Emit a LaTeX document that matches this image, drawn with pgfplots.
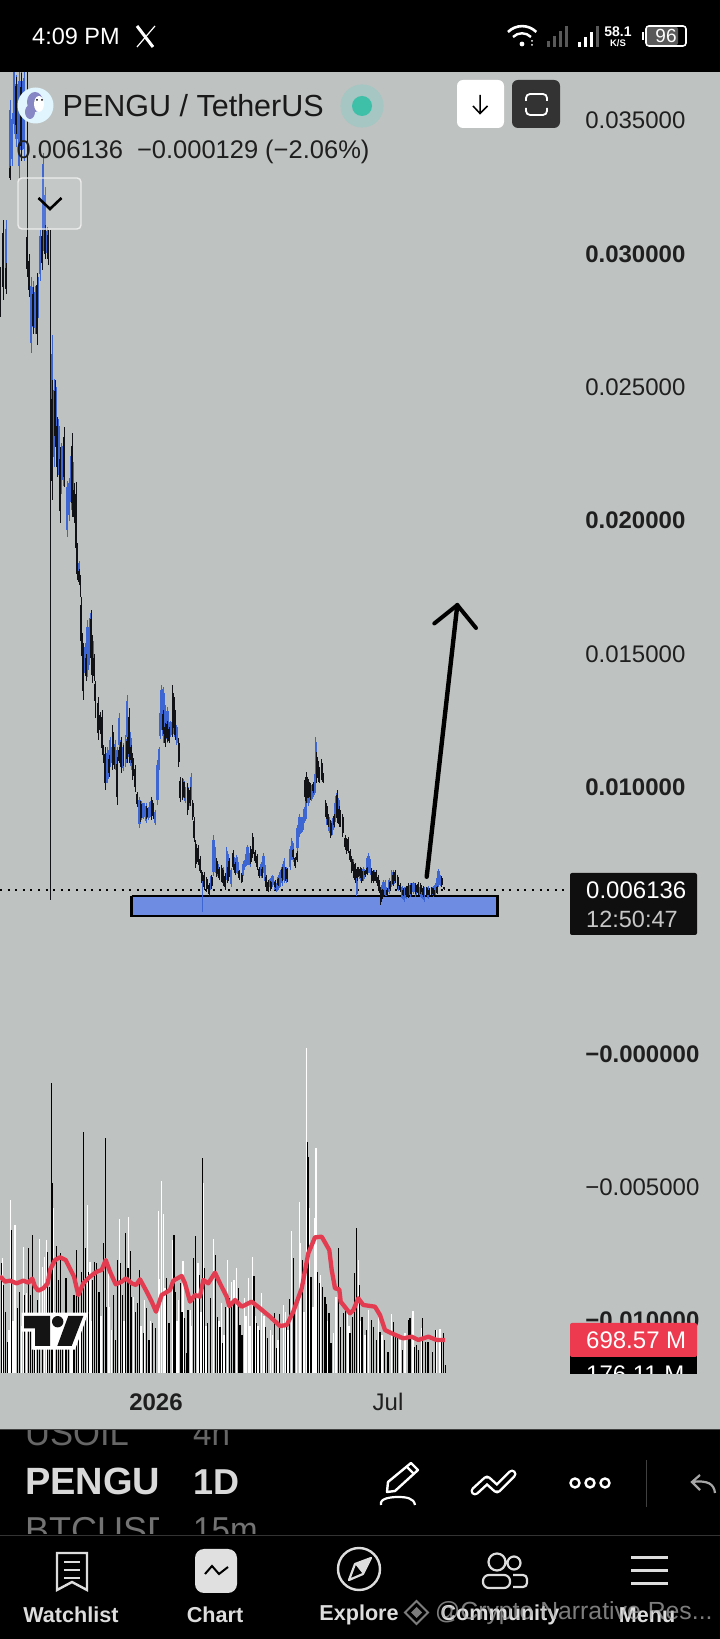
\documentclass[border=0pt]{standalone}
\usepackage{pgfplots}
\usepackage{pgfplotstable}
\usepackage{fontspec}
\setmainfont{Liberation Sans}
\pgfplotsset{compat=1.18}
\definecolor{bg}{HTML}{BEC2C1}
\definecolor{cblue}{HTML}{3D66D2}
\definecolor{cblack}{HTML}{101216}
\definecolor{rectblue}{HTML}{6E8CE2}
\definecolor{mared}{HTML}{E33C50}
\definecolor{tagred}{HTML}{EE3A4E}
\definecolor{navtxt}{HTML}{DDDDDD}
\newcommand{\fs}[1]{\fontsize{#1}{#1}\selectfont}
\pgfplotstableread{
x lo hi
6 0.02850 0.03127
10 0.03277 0.03577
12 0.03330 0.03530
14 0.03450 0.03750
16.5 0.03400 0.03670
19 0.03277 0.03700
21.5 0.03350 0.03690
24 0.03350 0.03700
31 0.02630 0.02915
33 0.02700 0.02900
35 0.02700 0.02880
38 0.02760 0.02915
40 0.02900 0.03090
43 0.03010 0.03380
45 0.03000 0.03250
47 0.02990 0.03100
52 0.02115 0.02696
54 0.02200 0.02530
56 0.02280 0.02500
58.5 0.02170 0.02380
61 0.02100 0.02290
63 0.02130 0.02300
67 0.01940 0.02150
69 0.02000 0.02160
71 0.02040 0.02270
73 0.02100 0.02220
79 0.01777 0.01850
84 0.01430 0.01520
85 0.01430 0.01540
87 0.01415 0.01627
88.3 0.01440 0.01600
89 0.01510 0.01550
90 0.01490 0.01652
93 0.01440 0.01550
106 0.01015 0.01127
107.7 0.01015 0.01150
108.5 0.01030 0.01140
110 0.01077 0.01190
112 0.01080 0.01160
115 0.01065 0.01177
117 0.01070 0.01150
119 0.01140 0.01277
121 0.01090 0.01190
123 0.01060 0.01165
125.7 0.01077 0.01196
127 0.01165 0.01346
129.3 0.01100 0.01220
131 0.01065 0.01183
139.3 0.00846 0.00965
141.7 0.00877 0.00950
143 0.00880 0.00940
144 0.00890 0.00940
146 0.00865 0.00940
148.3 0.00877 0.00927
150 0.00890 0.00950
155 0.00858 0.00915
157.3 0.00933 0.01102
159 0.01065 0.01152
160 0.01180 0.01290
161 0.01215 0.01383
162.3 0.01200 0.01370
163.3 0.01165 0.01377
165 0.01190 0.01310
167.3 0.01165 0.01302
170.5 0.01190 0.01250
174 0.01190 0.01260
175 0.01180 0.01290
176.7 0.01158 0.01233
183.7 0.00960 0.01030
185 0.00940 0.01000
188.7 0.00920 0.01000
191 0.00952 0.01052
210.7 0.00615 0.00665
213.3 0.00665 0.00820
215 0.00677 0.00777
218 0.00660 0.00710
223 0.00650 0.00700
226.7 0.00652 0.00777
228 0.00660 0.00750
231 0.00627 0.00696
234.7 0.00680 0.00740
236.7 0.00677 0.00746
238 0.00670 0.00720
242.7 0.00660 0.00710
244 0.00690 0.00727
245.7 0.00700 0.00750
247.3 0.00708 0.00783
248.7 0.00710 0.00760
250 0.00702 0.00740
261 0.00660 0.00720
263.3 0.00677 0.00752
265 0.00640 0.00710
270 0.00620 0.00660
272.3 0.00627 0.00671
274.7 0.00615 0.00650
276.7 0.00608 0.00640
278.3 0.00615 0.00670
280 0.00627 0.00690
282 0.00630 0.00710
284 0.00640 0.00733
286 0.00640 0.00700
290 0.00690 0.00780
291.7 0.00727 0.00808
293 0.00720 0.00790
297.5 0.00760 0.00860
299.3 0.00815 0.00900
301 0.00830 0.00890
302.3 0.00833 0.00890
304.3 0.00865 0.00927
306 0.00880 0.00970
308.3 0.00930 0.01030
310 0.00952 0.01015
311.7 0.00950 0.01010
313.3 0.00965 0.01015
315 0.00980 0.01060
315.7 0.01027 0.01190
326.7 0.00860 0.00940
329 0.00830 0.00890
330.7 0.00808 0.00877
332 0.00820 0.00880
333.3 0.00840 0.00890
334.7 0.00860 0.00940
336 0.00896 0.00977
338.7 0.00890 0.00960
353 0.00680 0.00730
356.7 0.00590 0.00677
360 0.00650 0.00700
361.7 0.00640 0.00696
363.3 0.00650 0.00700
367 0.00690 0.00740
368.3 0.00677 0.00752
370 0.00670 0.00730
374 0.00650 0.00690
382 0.00590 0.00640
383.3 0.00590 0.00652
385 0.00590 0.00650
386.7 0.00590 0.00627
389 0.00600 0.00660
391.7 0.00627 0.00690
393.5 0.00630 0.00690
398 0.00610 0.00660
402 0.00580 0.00630
404 0.00571 0.00627
406 0.00580 0.00630
410 0.00590 0.00640
413.3 0.00600 0.00646
415.7 0.00590 0.00640
420 0.00590 0.00630
422 0.00580 0.00620
424 0.00571 0.00627
428 0.00580 0.00630
433 0.00590 0.00630
435 0.00596 0.00640
436.7 0.00610 0.00660
438.3 0.00627 0.00692
440 0.00630 0.00670
}\blueC
\pgfplotstableread{
x lo hi
0 0.02765 0.02952
3 0.02827 0.03127
6 0.02850 0.02965
10 0.03277 0.03330
16 0.03450 0.03665
21 0.03350 0.03680
27 0.02915 0.03090
29 0.02840 0.03000
33 0.02700 0.02877
37 0.02658 0.02927
42 0.02940 0.03090
45 0.02980 0.03110
48 0.02960 0.03090
52 0.02077 0.02527
55 0.02277 0.02527
57 0.02165 0.02390
60 0.01990 0.02277
64 0.02127 0.02350
72 0.02015 0.02330
74 0.01990 0.02140
76 0.01850 0.02146
77 0.01777 0.01915
79 0.01760 0.01820
80.5 0.01715 0.01796
81 0.01515 0.01715
82 0.01477 0.01577
83 0.01327 0.01540
86 0.01400 0.01500
91 0.01450 0.01665
92 0.01390 0.01570
94 0.01400 0.01500
95 0.01310 0.01400
95.5 0.01260 0.01365
98 0.01177 0.01340
100 0.01200 0.01283
102 0.01120 0.01290
103.5 0.01090 0.01160
105 0.00990 0.01152
109 0.01040 0.01120
112.7 0.01065 0.01233
114 0.01070 0.01150
117 0.00933 0.01115
119 0.01090 0.01150
121 0.01052 0.01190
123.5 0.01080 0.01160
127 0.01090 0.01190
129 0.01090 0.01296
131 0.01090 0.01160
132.7 0.01027 0.01127
135 0.00983 0.01083
137.3 0.00927 0.00983
140.7 0.00870 0.00950
146.7 0.00880 0.00930
151.7 0.00877 0.00965
153.5 0.00880 0.00940
163 0.01200 0.01290
165 0.01150 0.01240
167 0.01170 0.01250
169.3 0.01165 0.01227
172.7 0.01190 0.01383
174 0.01200 0.01340
175 0.01177 0.01290
178.7 0.01077 0.01183
180 0.00946 0.01040
182.7 0.00952 0.01033
184.5 0.00960 0.01020
187.7 0.00896 0.01015
190 0.00930 0.01000
192.7 0.00877 0.00952
194.3 0.00796 0.00890
195.7 0.00696 0.00802
198.3 0.00708 0.00783
200.3 0.00677 0.00740
201.7 0.00640 0.00690
204 0.00615 0.00683
206.7 0.00608 0.00665
209 0.00590 0.00640
211.7 0.00620 0.00670
216.7 0.00665 0.00733
219 0.00652 0.00702
221.7 0.00646 0.00708
223.3 0.00630 0.00690
225 0.00615 0.00677
227.7 0.00640 0.00700
229 0.00665 0.00733
233.3 0.00690 0.00765
235 0.00670 0.00720
239 0.00652 0.00690
241.7 0.00640 0.00677
250.7 0.00710 0.00780
252.7 0.00733 0.00827
255 0.00715 0.00765
257 0.00690 0.00750
259 0.00658 0.00702
262 0.00660 0.00700
266 0.00615 0.00671
268.3 0.00608 0.00652
270.7 0.00610 0.00650
275 0.00620 0.00650
278 0.00630 0.00660
282 0.00650 0.00700
285.7 0.00650 0.00700
287 0.00646 0.00696
293 0.00730 0.00770
295 0.00696 0.00740
297 0.00720 0.00760
305 0.00950 0.01040
306.7 0.00940 0.01058
308.7 0.00960 0.01030
310 0.00952 0.01015
313 0.00980 0.01020
316.7 0.01015 0.01133
318 0.01020 0.01100
319 0.01015 0.01077
321.7 0.01027 0.01105
323.3 0.01015 0.01052
325.7 0.00890 0.00952
327 0.00870 0.00930
328.3 0.00852 0.00900
330.7 0.00808 0.00877
334 0.00850 0.00900
337.3 0.00865 0.00990
339 0.00850 0.00930
340 0.00852 0.00915
342.7 0.00815 0.00900
345 0.00765 0.00820
346.7 0.00750 0.00810
348.3 0.00752 0.00815
350 0.00720 0.00770
351.7 0.00677 0.00740
353.7 0.00660 0.00720
355 0.00640 0.00715
357 0.00650 0.00700
358.3 0.00665 0.00702
360 0.00660 0.00700
361.7 0.00640 0.00696
365 0.00665 0.00690
367 0.00670 0.00700
371.7 0.00640 0.00696
373.7 0.00640 0.00690
376 0.00640 0.00690
378 0.00620 0.00670
379.3 0.00602 0.00652
380.7 0.00558 0.00627
382.7 0.00580 0.00620
387 0.00590 0.00620
390 0.00610 0.00650
393 0.00630 0.00680
395 0.00640 0.00690
397.7 0.00620 0.00670
400 0.00608 0.00640
403 0.00590 0.00620
406 0.00590 0.00630
408.3 0.00583 0.00640
411 0.00590 0.00640
415.7 0.00600 0.00640
418.3 0.00596 0.00646
420.7 0.00600 0.00640
423 0.00590 0.00630
426.7 0.00590 0.00627
429 0.00590 0.00620
431.7 0.00596 0.00627
433.7 0.00590 0.00620
437 0.00600 0.00630
441.7 0.00627 0.00665
444 0.00615 0.00627
}\blackC
\pgfplotstableread{
x lo hi
27 0.02915 0.03750
50.5 0.00576 0.03090
}\blackW
\pgfplotstableread{
x lo hi
202.3 0.00533 0.00677
}\blueW
\pgfplotstableread{
x v
1.3 2336
3.3 1863
5.3 1298
7.3 663
11.3 3027
17.3 1369
19.3 1722
24.3 1651
28.3 2639
30.3 1651
32.3 2921
34.3 487
37.3 1545
39.3 840
42.3 700
47.3 2569
49.3 1828
51.3 6133
52.3 4015
56.3 2689
58.3 1969
60.3 2534
62.3 840
66 2004
68.3 699
74 1651
76.3 2604
78.3 1700
81.3 2145
83.3 5109
85.3 2639
88.7 2145
92.7 1969
94.7 2357
96.7 2322
99 1722
103.3 2760
105.3 4982
106.3 1404
113.3 1651
115.3 699
117.3 2392
120.3 2322
122.3 1651
125.7 2957
128 2216
130.3 2590
131.3 1616
135.3 1298
137.3 1475
139.3 2181
143.3 840
146.3 1369
149 699
152.7 1052
155.7 946
166.3 2004
169 1052
174 2921
175 1722
180.3 1898
182 1298
184.3 1157
187 416
188 1334
193.3 2428
195.3 2900
199.7 2075
202.3 4559
204.3 2216
207.3 1052
210.3 1581
215.3 2498
217.7 1193
220 981
222.7 628
225.3 1404
229.3 1581
231.7 1475
234 1545
238.3 1793
240 1016
242 805
254 2054
256.7 1052
259.3 910
265.7 981
267.7 734
274.3 1263
276.7 522
279.7 1242
286.7 981
289.3 1560
293.3 2428
294.7 1475
302.3 2392
307.7 4898
308.7 4580
311 2040
317.3 2145
319.3 1898
322.3 1828
325 1616
326.7 1454
329 1263
331 628
338.3 2639
340.7 981
343.3 1263
345.3 1334
350 840
352.3 1193
354.3 2110
356.3 3063
359.3 1863
362 1193
366.7 910
371.3 1122
373.7 981
376.3 699
380 875
384.3 699
388 452
393.3 1087
395.7 769
397.7 734
402.7 487
408.3 1122
410 1157
414.3 557
416.7 593
418.7 487
422.3 1157
425.7 663
428 663
432.3 452
435.7 910
441.7 663
443.3 840
445.7 176
}\blackV
\pgfplotstableread{
x v
2.3 2428
9 900
10.3 3663
13 1100
15 3133
21.5 1000
23.3 2675
26.7 1700
35.7 800
39.3 2830
42.3 2251
44.3 2463
46.3 2816
53.3 3486
54.7 1300
64.3 950
70.5 1150
72 800
80 1250
87.7 3557
90 2357
91.3 1100
101 1200
108.3 2110
109.7 1400
111.5 900
119.3 3253
124 1100
128.3 3310
133.3 1616
141 1000
144.7 1545
150.7 1100
158.3 3430
159.7 2000
161.3 4072
163.3 3366
165 1800
172.3 2816
177 1100
178.3 1545
183 2378
190.3 1334
191.7 1000
198 2336
201 1300
203.3 4015
206 1000
213.3 2830
219 1100
221.3 1480
224 800
227.7 2392
231.7 1934
234 1969
236.3 2216
244.3 1581
246 1200
248.3 2004
250 1000
252.3 2463
255 1200
258 1000
261.7 1687
264 1200
270.7 910
272.5 800
278 700
283.3 1440
285.3 1300
288 900
291.3 3006
296.7 1475
299.3 3613
300.3 2745
304 1300
306.3 6873
309.7 3486
313 1400
316 4756
315 3274
320.7 2075
328 1100
333.3 840
336 1616
347.3 1400
349 1000
358.3 2392
361 1100
365 800
368.3 1334
378.3 1250
382 800
391.3 1249
400 700
405 840
413 1320
421.7 950
436 910
440 924
}\whiteV
\pgfplotstableread{
x v
0 2054
5 1934
10 1955
16.7 1898
23.3 1955
28.3 1912
32.3 1997
35 1828
38.3 1743
43.3 1793
47.7 1898
50 2181
55 2392
60 2449
65.7 2392
70.7 2181
74 2040
78.3 1651
83.3 1898
90 2040
96.7 2145
101.7 2181
105.7 2392
110 2145
115.7 1877
121.7 1934
126 2004
131.7 1898
136 1863
140 1983
146.7 1722
151.7 1510
156 1298
161.7 1651
170 1757
173.3 1955
181.7 2054
185 1898
190 1510
195 1651
200 1616
203.3 1969
208.3 1898
215 2124
220 1898
226.7 1616
229.3 1418
235 1545
241.7 1404
251.7 1510
260 1369
270 1193
280 995
286.7 1016
293.3 1298
301.7 1793
308.3 2534
315 2872
321.7 2886
329.3 2604
331.7 2181
335 1793
339.3 1771
340.7 1510
350 1263
353.3 1330
358.3 1581
363.3 1440
375 1404
380 1228
385 910
391.7 840
403.3 734
411.7 769
418.3 699
428.3 769
436.7 699
445 699
}\maV
\begin{document}
\begin{tikzpicture}[x=1pt,y=1pt]
\useasboundingbox (0,0) rectangle (720,1639);
\fill[black] (-3,-3) rectangle (723,1642);
\fill[bg] (-3,210) rectangle (723,1567);
% price axis: chart region y(px) 72..1429
\begin{axis}[at={(0pt,210pt)},anchor=south west,scale only axis,width=720pt,height=1357pt,
  xmin=0,xmax=720,ymin=-0.01407,ymax=0.03682,
  axis line style={draw=none},tick style={draw=none},
  scaled y ticks=false,
  ytick={0.035,0.03,0.025,0.02,0.015,0.01,0,-0.005,-0.01},
  yticklabels={0.035000,\bfseries 0.030000,0.025000,\bfseries 0.020000,0.015000,\bfseries 0.010000,\bfseries −0.000000,−0.005000,\bfseries −0.010000},
  yticklabel pos=right,
  yticklabel style={anchor=west,xshift=-134pt-\pgfkeysvalueof{/pgfplots/major tick length},font=\fs{24},text=black!88},
  xtick={156,388},xticklabels={\bfseries 2026,Jul},
  xticklabel style={anchor=center,yshift=27pt,font=\fs{24},text=black!88},
  clip=true]
\addplot[draw=none,fill=rectblue] coordinates {(131.7,0.00592) (497.3,0.00592) (497.3,0.00517) (131.7,0.00517) (131.7,0.00592)};
\addplot[black,line width=2.6pt] coordinates {(131.7,0.00592) (497.3,0.00592) (497.3,0.00517) (131.7,0.00517) (131.7,0.00592)};
\addplot[black,line width=1.6pt,dash pattern=on 2pt off 5.6pt] coordinates {(0,0.006136) (565,0.006136)};
\addplot[draw=none,mark=none,error bars/.cd,y dir=both,y explicit,error mark=none,error bar style={draw=cblue,line width=1pt}] table[x=x,y expr={(\thisrow{lo}+\thisrow{hi})/2},y error expr={(\thisrow{hi}-\thisrow{lo})/2}] {\blueC};
\addplot[draw=none,mark=none,error bars/.cd,y dir=both,y explicit,error mark=none,error bar style={draw=cblue,line width=2.4pt}] table[x=x,y expr={(\thisrow{lo}+\thisrow{hi})/2},y error expr={(\thisrow{hi}-\thisrow{lo})*0.38}] {\blueC};
\addplot[draw=none,mark=none,error bars/.cd,y dir=both,y explicit,error mark=none,error bar style={draw=cblue,line width=1pt}] table[x=x,y expr={(\thisrow{lo}+\thisrow{hi})/2},y error expr={(\thisrow{hi}-\thisrow{lo})/2}] {\blueW};
\addplot[draw=none,mark=none,error bars/.cd,y dir=both,y explicit,error mark=none,error bar style={draw=cblack,line width=0.9pt}] table[x=x,y expr={(\thisrow{lo}+\thisrow{hi})/2},y error expr={(\thisrow{hi}-\thisrow{lo})/2}] {\blackC};
\addplot[draw=none,mark=none,error bars/.cd,y dir=both,y explicit,error mark=none,error bar style={draw=cblack,line width=1.9pt}] table[x=x,y expr={(\thisrow{lo}+\thisrow{hi})/2},y error expr={(\thisrow{hi}-\thisrow{lo})*0.34}] {\blackC};
\addplot[draw=none,mark=none,error bars/.cd,y dir=both,y explicit,error mark=none,error bar style={draw=cblack,line width=0.9pt}] table[x=x,y expr={(\thisrow{lo}+\thisrow{hi})/2},y error expr={(\thisrow{hi}-\thisrow{lo})/2}] {\blackW};
\addplot[black,line width=4.4pt,line cap=round] coordinates {(426.7,0.00664) (457.3,0.01683)};
\addplot[black,line width=4pt,line cap=round,line join=round] coordinates {(434.3,0.01614) (457.3,0.01683) (476,0.01597)};
\end{axis}
% volume axis: baseline y(px)=1373, top y(px)=1040
\begin{axis}[at={(0pt,266pt)},anchor=south west,scale only axis,width=720pt,height=333pt,
  xmin=0,xmax=720,ymin=0,ymax=7050,hide axis,clip=true]
\addplot[ycomb,white,line width=1.4pt] table[x=x,y=v] {\whiteV};
\addplot[ycomb,black,line width=1.5pt] table[x=x,y=v] {\blackV};
\addplot[mared,line width=4.3pt,line join=round] table[x=x,y=v] {\maV};
\end{axis}
\begin{scope}[yshift=1639pt,x=1pt,y=-1pt]
% TV logo
\fill[white] (21.7,1312.7)--(88.3,1312.7)--(75,1349.7)--(31.7,1349.7)--(31.7,1331.7)--(21.7,1331.7)--cycle;
\fill[black!92] (24,1316)--(50,1316)--(50,1346)--(35,1346)--(35,1328.3)--(24,1328.3)--cycle;
\fill[black!92] (57.7,1321.7) circle (5.7);
\fill[black!92] (68.3,1316)--(83.3,1316)--(71.7,1346)--(57.3,1346)--cycle;
% tags
\fill[black!94,rounded corners=2pt] (570,873) rectangle (697,935);
\node[anchor=west,text=white,font=\fs{24},inner sep=0] at (586,890) {0.006136};
\node[anchor=west,text=black!22,font=\fs{23.5},inner sep=0] at (586,919) {12:50:47};
\begin{scope}
\clip (560,1300) rectangle (720,1374);
\fill[black] (570,1350) rectangle (697,1380);
\node[anchor=west,text=white,font=\fs{24},inner sep=0] at (586,1374) {176.11 M};
\end{scope}
\fill[tagred,rounded corners=2pt] (570,1323) rectangle (697,1357);
\node[anchor=west,text=white,font=\fs{24},inner sep=0] at (586,1340.5) {698.57 M};
% header
\fill[white!88!cyan] (35.5,105.5) circle (18);
\fill[blue!35!gray!70!white] (35,102) ellipse (8 and 10);
\fill[blue!35!gray!70!white] (30,112) ellipse (5 and 7);
\fill[white] (39,104) ellipse (5 and 8);
\fill[black] (37,100) circle (1); \fill[black] (42,100) circle (1);
\node[anchor=west,text=black!90,font=\fs{30.5},inner sep=0] at (62.5,106) {PENGU / TetherUS};
\definecolor{dotout}{HTML}{A5C6C2}\definecolor{dotin}{HTML}{3DBFA8}
\fill[dotout] (362,106) circle (21.6);
\fill[dotin] (362,106) circle (10);
\node[anchor=west,text=black!88,font=\fs{25.5},inner sep=0] at (16.5,152) {0.006136\hspace{14pt}−0.000129\hspace{7pt}(−2.06\%)};
\fill[white,rounded corners=6pt] (457,80) rectangle (504,128);
\draw[black,line width=1.5pt] (480,95)--(480,113) (473,106)--(480,113.5)--(487.5,106);
\fill[black!80,rounded corners=6pt] (512,80) rectangle (560,128);
\draw[white,line width=1.8pt,rounded corners=4pt] (526,101)--(526,94)--(547,94)--(547,101) (526,108)--(526,115)--(547,115)--(547,108);
\fill[white,opacity=0.1,rounded corners=4pt] (18,178) rectangle (81,229);
\draw[white!85!gray,line width=1.4pt,rounded corners=4pt] (18,178) rectangle (81,229);
\draw[black,line width=2.6pt] (38.5,198)--(50,209)--(61.5,198);
% status bar
\fill[black] (-3,-3) rectangle (723,72);
\node[anchor=west,text=white,font=\fs{23.5},inner sep=0] at (32,36) {4:09 PM};
\draw[white,line width=3pt] (137,26)--(153,47);
\draw[white,line width=1.2pt] (155,26)--(137,47);
\draw[white,line width=2.6pt] (508,32) arc[start angle=225,end angle=315,radius=20];
\draw[white,line width=2.4pt] (513,37) arc[start angle=225,end angle=315,radius=12.7];
\fill[white] (522,44) circle (2.4);
\fill[white] (532,41) circle (1); \fill[white] (532,45) circle (1);
\foreach \a/\h in {547/6,553/11,559/16,565/21}{\fill[white!35!black] (\a,47) rectangle (\a+2.5,47-\h);}
\foreach \a/\h/\c in {578/5/100,584/10/100,590/15/100,596/21/35}{\fill[white!\c!black] (\a,47) rectangle (\a+2.8,47-\h);}
\node[text=white,font=\bfseries\fs{14}] at (618,32) {58.1};
\node[text=white,font=\bfseries\fs{9.5}] at (618,43) {K/S};
\fill[white!35!black,rounded corners=2pt] (647,27) rectangle (678,45);
\draw[white,line width=1.6pt,rounded corners=3pt] (646,26) rectangle (686,46);
\fill[white] (642,32) rectangle (644,40);
\node[text=white,font=\fs{19}] at (666,36) {96};
% picker
\draw[black!75,line width=1.2pt] (-3,1429.5)--(723,1429.5);
\begin{scope}
\clip (0,1431) rectangle (720,1534);
\node[anchor=base west,text=black!60,font=\fs{36},inner sep=0,xscale=0.96] at (25,1446) {USOIL};
\node[anchor=base west,text=black!60,font=\fs{36},inner sep=0,xscale=0.92] at (193,1446) {4h};
\node[anchor=base west,text=white!85!black,font=\bfseries\fs{36},inner sep=0] at (193,1495) {1D};
\node[anchor=base west,text=black!55,font=\fs{36},inner sep=0,xscale=0.92] at (193,1543) {15m};
\end{scope}
\begin{scope}
\clip (0,1431) rectangle (158,1534);
\node[anchor=base west,text=white!85!black,font=\bfseries\fs{38},inner sep=0] at (25,1495) {PENGU};
\node[anchor=base west,text=black!55,font=\fs{36},inner sep=0] at (25,1543) {BTCUSD};
\end{scope}
\draw[black!80,line width=1.4pt] (-3,1535.7)--(723,1535.7);
% tools
\draw[white,line width=2.4pt,line join=round] (387,1492)--(388,1482)--(411,1463)--(418,1470)--(395,1491)--cycle;
\draw[white,line width=2.2pt] (407,1467)--(414,1474);
\draw[white,line width=2.2pt] (381,1505) .. controls (379,1498) and (392,1497) .. (398,1497) .. controls (406,1497) and (414,1498) .. (415,1505);
\draw[white,line width=9pt,line cap=round,line join=round] (475,1491)--(487,1480)--(497,1489)--(512,1474);
\draw[black,line width=4pt,line cap=round,line join=round] (475,1491)--(487,1480)--(497,1489)--(512,1474);
\foreach \a in {575,590,605}{\draw[white,line width=2.4pt] (\a,1483) circle (4.5);}
\draw[black!75,line width=1.2pt] (646.5,1460)--(646.5,1507);
\draw[white!65!black,line width=2.2pt] (700,1475)--(692,1482)--(700,1490) (692,1482) .. controls (708,1480) and (714,1484) .. (715,1493);
% nav
\draw[navtxt,line width=2.4pt,line join=miter] (57,1553)--(87,1553)--(87,1590)--(72,1582)--(57,1590)--cycle;
\draw[navtxt,line width=2.4pt] (64,1562)--(80,1562) (64,1570)--(80,1570) (64,1578)--(80,1578);
\node[text=navtxt,font=\bfseries\fs{21.6},inner sep=0] at (71,1615) {Watchlist};
\fill[white!88!black,rounded corners=9pt] (195,1549) rectangle (237,1593);
\draw[black,line width=2pt] (205,1574)--(212,1566)--(219,1574)--(228,1567);
\node[text=navtxt,font=\bfseries\fs{21.6},inner sep=0] at (215,1615) {Chart};
\draw[navtxt,line width=2.4pt] (359,1569) circle (21);
\draw[navtxt,line width=2.2pt,line join=round] (371,1558)--(363,1574)--(349,1580)--(355,1564)--cycle;
\fill[navtxt] (371,1558)--(363,1574)--(355,1564)--cycle;
\node[text=navtxt,font=\bfseries\fs{21.6},inner sep=0] at (359,1615) {Explore};
\draw[navtxt,line width=2.2pt] (497,1562) circle (8.5) (514,1563) circle (6.5);
\draw[navtxt,line width=2.2pt,rounded corners=6pt] (483,1588)--(483,1575)--(510,1575)--(510,1588)--cycle;
\draw[navtxt,line width=2.2pt,rounded corners=4pt] (513,1575)--(527,1575)--(527,1587)--(513,1587);
\node[text=navtxt,font=\bfseries\fs{21.6},inner sep=0] at (500,1615) {Community};
\fill[navtxt] (631,1556)--(668,1556)--(668,1559.5)--(631,1559.5)--cycle;
\fill[navtxt] (631,1569)--(668,1569)--(668,1572.5)--(631,1572.5)--cycle;
\fill[navtxt] (631,1582)--(668,1582)--(668,1585.5)--(631,1585.5)--cycle;
\node[text=navtxt,font=\bfseries\fs{21.6},inner sep=0] at (647,1615) {Menu};
% watermark
\begin{scope}[opacity=0.7]
\draw[white!70!black,line width=2pt] (416.5,1601)--(428,1612.5)--(416.5,1624)--(405,1612.5)--cycle;
\fill[white!70!black] (416.5,1607) -- (422,1612.5) -- (416.5,1618) -- (411,1612.5) -- cycle;
\node[anchor=west,text=white!70!black,font=\fs{24.8},inner sep=0] at (435,1613) {@Crypto Narrative Res...};
\end{scope}
\end{scope}
\end{tikzpicture}
\end{document}
